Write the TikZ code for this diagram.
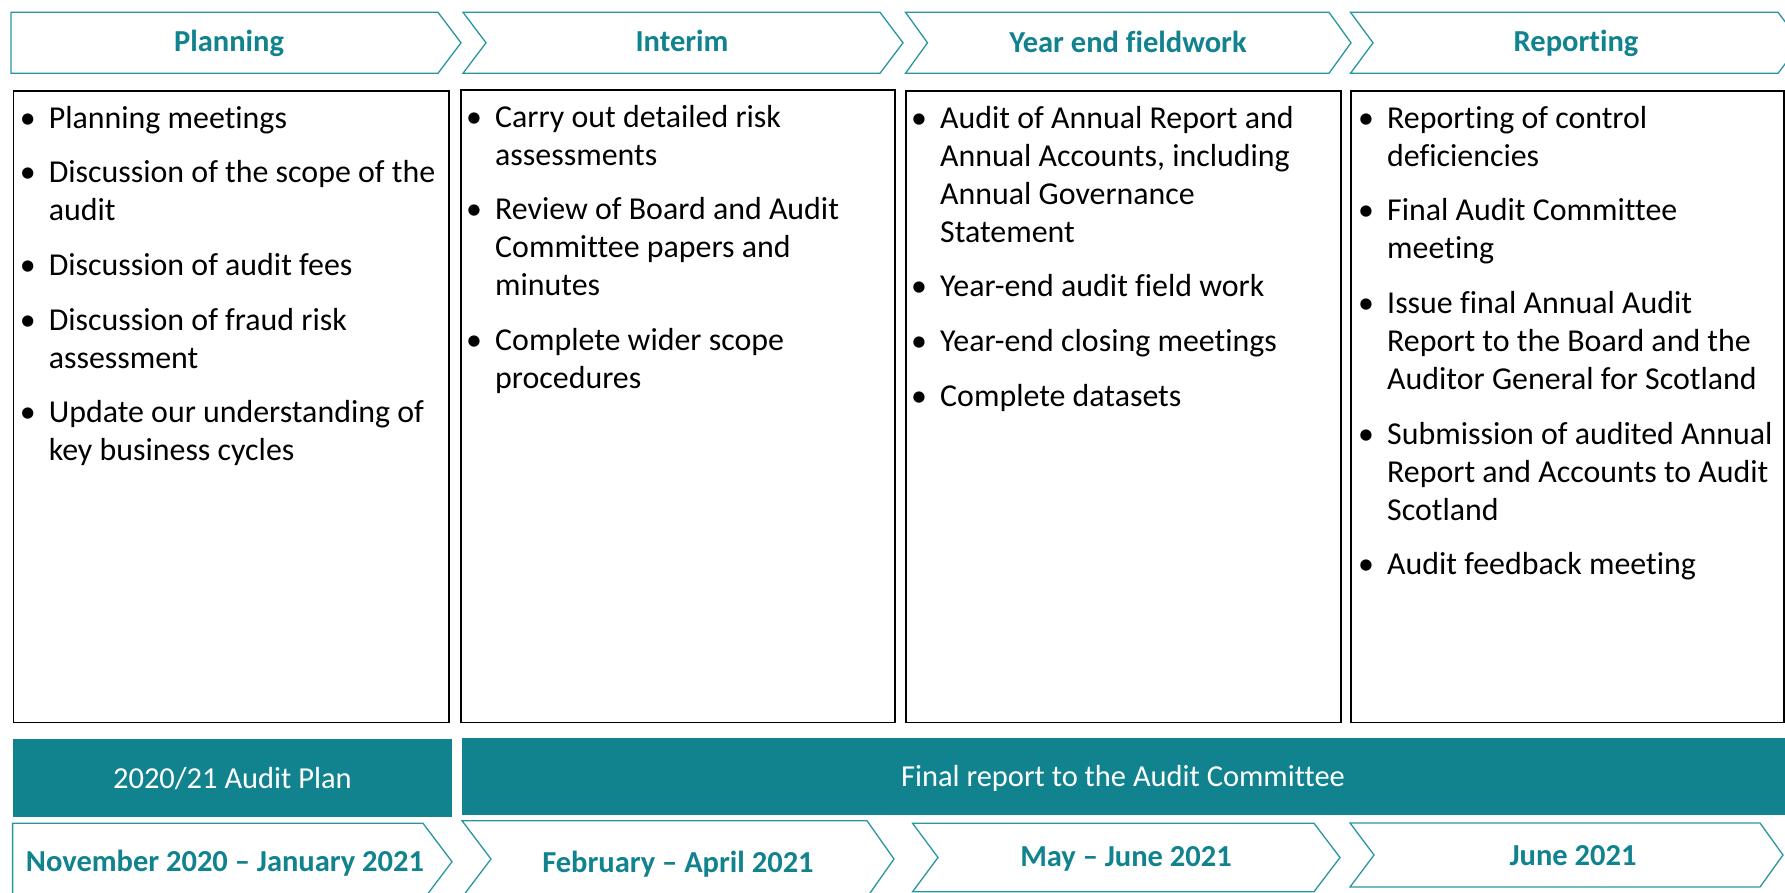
\documentclass[tikz,border=0pt]{standalone}
\usepackage{fontspec}
\setmainfont[Ligatures={TeX,NoCommon}]{Carlito}
\definecolor{teal1}{RGB}{16,131,143}
\definecolor{tealline}{RGB}{40,150,162}
\newcommand\bl{\makebox[30pt][l]{\hspace{1pt}\textbullet}}
\newcommand\ind{\hspace*{30pt}}
\begin{document}
\begin{tikzpicture}[x=1pt,y=-1pt,
  chev/.style={draw=tealline,line width=1.3pt,fill=white},
  cbox/.style={draw=black,line width=1.8pt,inner sep=0,anchor=north west},
  bar/.style={fill=teal1,inner sep=0,anchor=north west},
  head/.style={font=\bfseries\fontsize{30.5}{36}\selectfont,text=teal1,anchor=base,inner sep=0},
  bartext/.style={font=\fontsize{30.5}{36}\selectfont,text=white,anchor=base,inner sep=0},
  body/.style={font=\fontsize{31.9}{38}\selectfont,align=left,anchor=north west,inner sep=0}]
\useasboundingbox (0,0) rectangle (1785,893);
\fill[white] (0,0) rectangle (1785,893);

% top chevrons
\draw[chev] (11,12.3) -- (438,12.3) -- (461,42.8) -- (438,73.3) -- (11,73.3) -- cycle;
\draw[chev] (463,12.3) -- (880,12.3) -- (903,42.8) -- (880,73.3) -- (463,73.3) -- (486,42.8) -- cycle;
\draw[chev] (905.5,12.3) -- (1329,12.3) -- (1351,42.8) -- (1329,73.3) -- (905.5,73.3) -- (927.5,42.8) -- cycle;
\draw[chev] (1350.5,12.3) -- (1778,12.3) -- (1801,42.8) -- (1778,73.3) -- (1350.5,73.3) -- (1373,42.8) -- cycle;
\node[head] (h1) at (229,52) {Planning};
\node[head] (h2) at (682,52) {Interim};
\node[head] (h3) at (1128,52.5) {Year end fieldwork};
\node[head] (h4) at (1576,52) {Reporting};

% content boxes
\node[cbox,minimum width=435.4pt,minimum height=631.5pt] (b1) at (12.6,90) {};
\node[cbox,minimum width=434pt,minimum height=632pt] (b2) at (460,89.5) {};
\node[cbox,minimum width=435pt,minimum height=631.5pt] (b3) at (905,90) {};
\node[cbox,minimum width=433.4pt,minimum height=631.5pt] (b4) at (1350,90) {};

\node[body] (t1) at ([xshift=6pt,yshift=-8pt]b1.north west) {\rule{0pt}{30pt}\bl Planning meetings\\[16.6pt]
\bl Discussion of the scope of the\\
\ind audit\\[16.6pt]
\bl Discussion of audit fees\\[16.6pt]
\bl Discussion of fraud risk\\
\ind assessment\\[16.6pt]
\bl Update our understanding of\\
\ind key business cycles};

\node[body] (t2) at ([xshift=5pt,yshift=-7.5pt]b2.north west) {\rule{0pt}{30pt}\bl Carry out detailed risk\\
\ind assessments\\[16.6pt]
\bl Review of Board and Audit\\
\ind Committee papers and\\
\ind minutes\\[16.6pt]
\bl Complete wider scope\\
\ind procedures};

\node[body] (t3) at ([xshift=5pt,yshift=-8pt]b3.north west) {\rule{0pt}{30pt}\bl Audit of Annual Report and\\
\ind Annual Accounts, including\\
\ind Annual Governance\\
\ind Statement\\[16.6pt]
\bl Year-end audit field work\\[16.6pt]
\bl Year-end closing meetings\\[16.6pt]
\bl Complete datasets};

\node[body] (t4) at ([xshift=7pt,yshift=-8pt]b4.north west) {\rule{0pt}{30pt}\bl Reporting of control\\
\ind deficiencies\\[16.6pt]
\bl Final Audit Committee\\
\ind meeting\\[16.6pt]
\bl Issue final Annual Audit\\
\ind Report to the Board and the\\
\ind Auditor General for Scotland\\[16.6pt]
\bl Submission of audited Annual\\
\ind Report and Accounts to Audit\\
\ind Scotland\\[16.6pt]
\bl Audit feedback meeting};

% teal bars
\node[bar,minimum width=439.4pt,minimum height=78.4pt] (r1) at (12.6,738.3) {};
\node[bar,minimum width=1330pt,minimum height=77.7pt] (r2) at (462,737.3) {};
\node[bartext] (l1) at (232.4,788.3) {2020/21 Audit Plan};
\node[bartext] (l2) at (1123,786.7) {Final report to the Audit Committee};

% bottom chevrons
\draw[chev] (12.6,823.3) -- (423,823.3) -- (452,861.7) -- (423,900.1) -- (12.6,900.1) -- cycle;
\draw[chev] (462,820.7) -- (867,820.7) -- (894,859) -- (867,897.3) -- (462,897.3) -- (491,859) -- cycle;
\draw[chev] (912.6,823.3) -- (1314,823.3) -- (1340,857.5) -- (1314,891.7) -- (912.6,891.7) -- (938,857.5) -- cycle;
\draw[chev] (1350,823) -- (1760,823) -- (1783,855) -- (1760,887) -- (1350,887) -- (1374,855) -- cycle;
\node[head] (d1) at (225,871.7) {November 2020 – January 2021};
\node[head] (d2) at (678,872.3) {February – April 2021};
\node[head] (d3) at (1126,866.7) {May – June 2021};
\node[head] (d4) at (1573,865) {June 2021};
\end{tikzpicture}
\end{document}
